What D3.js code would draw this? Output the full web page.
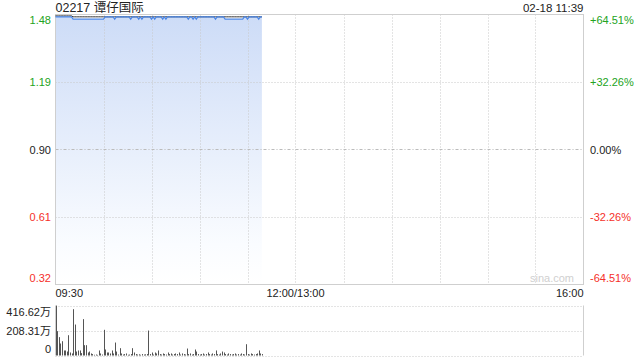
<!DOCTYPE html>
<html lang="zh">
<head>
  <meta charset="UTF-8">
  <title>02217 谭仔国际</title>
  <script src="https://d3js.org/d3.v7.min.js"></script>
  <style>
    html, body { margin: 0; padding: 0; background: #fff; }
    svg { display: block; font-family: "Liberation Sans", Arial, "Noto Sans CJK SC", sans-serif; }
  </style>
</head>
<body>
  <svg id="chart" width="640" height="360"></svg>

  <script>
    // --- data ---
    const title = '02217 谭仔国际';
    const stamp = '02-18 11:39';
    const prevClose = 0.90;
    const priceTicks = [1.48, 1.19, 0.90, 0.61, 0.32];
    const pctTicks = ['+64.51%', '+32.26%', '0.00%', '-32.26%', '-64.51%'];
    const volTicks = [416.62, 208.31, 0];
    const volTickLabels = ['416.62万', '208.31万', '0'];
    const timeLabels = ['09:30', '12:00/13:00', '16:00'];
    const timeTicks = [0, 150, 330];          // trading minutes since 09:30
    const gridMinutes = [30, 60, 90, 120, 150, 180, 210, 240, 270, 300];

    // one value per minute, 09:30 .. 11:39
    const price = [
      1.47,1.47,1.47,1.47,1.47,1.47,1.47,1.47,1.47,1.47,
      1.47,1.46,1.46,1.46,1.46,1.46,1.46,1.46,1.46,1.46,
      1.46,1.46,1.46,1.46,1.46,1.46,1.46,1.46,1.46,1.46,
      1.46,1.47,1.47,1.47,1.47,1.47,1.47,1.46,1.47,1.47,
      1.47,1.47,1.47,1.47,1.47,1.47,1.47,1.46,1.47,1.47,
      1.47,1.47,1.46,1.47,1.46,1.47,1.47,1.47,1.47,1.47,
      1.46,1.47,1.46,1.47,1.47,1.47,1.47,1.46,1.47,1.46,
      1.47,1.47,1.47,1.47,1.47,1.47,1.47,1.47,1.47,1.47,
      1.47,1.47,1.47,1.46,1.47,1.47,1.46,1.47,1.46,1.47,
      1.47,1.47,1.47,1.47,1.47,1.47,1.47,1.47,1.47,1.47,
      1.46,1.47,1.47,1.47,1.47,1.47,1.46,1.46,1.46,1.46,
      1.46,1.46,1.46,1.46,1.46,1.46,1.46,1.46,1.47,1.47,
      1.46,1.47,1.47,1.47,1.47,1.47,1.47,1.46,1.47,1.47
    ];
    const avgPrice = [
      1.474,1.474,1.474,1.474,1.474,1.474,1.474,1.474,1.474,1.474,
      1.474,1.47,1.47,1.47,1.47,1.47,1.47,1.47,1.47,1.47,
      1.47,1.47,1.47,1.47,1.47,1.47,1.47,1.47,1.47,1.47,
      1.47,1.47,1.47,1.47,1.47,1.47,1.47,1.47,1.47,1.47,
      1.47,1.47,1.47,1.47,1.47,1.47,1.47,1.47,1.47,1.47,
      1.47,1.47,1.47,1.47,1.47,1.47,1.47,1.47,1.47,1.47,
      1.47,1.47,1.47,1.47,1.47,1.47,1.47,1.47,1.47,1.47,
      1.47,1.47,1.47,1.47,1.47,1.47,1.47,1.47,1.47,1.47,
      1.47,1.47,1.47,1.47,1.47,1.47,1.47,1.47,1.47,1.47,
      1.47,1.47,1.47,1.47,1.47,1.47,1.47,1.47,1.47,1.47,
      1.47,1.47,1.47,1.47,1.47,1.47,1.47,1.47,1.47,1.47,
      1.47,1.47,1.47,1.47,1.47,1.47,1.47,1.47,1.47,1.47,
      1.47,1.47,1.47,1.47,1.47,1.47,1.47,1.47,1.47,1.47
    ];
    // volume in 万
    const volume = [
      416,203,153,100,119,42,42,33,169,25,
      17,386,258,33,42,42,20,303,86,86,
      25,33,17,12,6,8,5,42,17,8,
      214,50,25,25,17,42,17,108,33,8,
      61,17,8,12,17,6,8,12,61,25,
      12,8,10,6,12,8,10,12,208,12,
      25,8,25,17,42,12,8,17,12,8,
      25,12,17,8,12,17,12,25,8,17,
      12,8,58,12,17,8,12,50,33,12,
      8,12,17,8,12,25,12,8,17,12,
      42,12,8,17,33,25,12,8,17,12,
      8,12,17,8,12,8,17,12,8,94,
      12,8,17,12,8,12,17,42,17,12
    ];

    // --- layout ---
    const plotLeft = 55.5, plotRight = 583.5;
    const plotTop = 14.5, plotBottom = 284.5;
    const volTop = 305.5, volBottom = 355.5;
    const green = '#22a322', red = '#f5302a', dark = '#222';

    const svg = d3.select('#chart');

    const x = d3.scaleLinear().domain([0, 330]).range([plotLeft, plotRight]);
    const y = d3.scaleLinear().domain([0.32, 1.48]).range([plotBottom, plotTop]);
    const yv = d3.scaleLinear().domain([0, 416.62]).range([volBottom, volTop]);

    const tickColor = v => v > prevClose ? green : (v < prevClose ? red : dark);

    // gradient for the price area
    const grad = svg.append('defs').append('linearGradient')
      .attr('id', 'fill').attr('x1', 0).attr('y1', 0).attr('x2', 0).attr('y2', 1);
    grad.append('stop').attr('offset', '0%').attr('stop-color', '#cddcf7');
    grad.append('stop').attr('offset', '85%').attr('stop-color', '#fafcff');
    grad.append('stop').attr('offset', '100%').attr('stop-color', '#ffffff');

    // header
    svg.append('text').attr('x', plotLeft).attr('y', 12)
      .attr('font-size', 12.5).attr('fill', dark).text(title);
    svg.append('text').attr('x', plotRight).attr('y', 12)
      .attr('text-anchor', 'end').attr('font-size', 11.5).attr('fill', dark).text(stamp);

    // price area
    const area = d3.area()
      .x((d, i) => x(i)).y0(plotBottom).y1(d => y(d));
    svg.append('path').datum(price)
      .attr('d', area).attr('fill', 'url(#fill)');

    // grid
    const grid = svg.append('g');
    grid.selectAll('line.v').data(gridMinutes).enter().append('line')
      .attr('x1', d => Math.round(x(d)) + 0.5).attr('x2', d => Math.round(x(d)) + 0.5)
      .attr('y1', plotTop).attr('y2', plotBottom)
      .attr('stroke', '#c8c8c8').attr('stroke-dasharray', '1,2');
    grid.selectAll('line.h').data([1.19, 0.61]).enter().append('line')
      .attr('x1', plotLeft).attr('x2', plotRight)
      .attr('y1', d => Math.round(y(d)) + 0.5).attr('y2', d => Math.round(y(d)) + 0.5)
      .attr('stroke', '#c8c8c8').attr('stroke-dasharray', '1,2');
    grid.append('line')
      .attr('x1', plotLeft).attr('x2', plotRight)
      .attr('y1', Math.round(y(prevClose)) + 0.5).attr('y2', Math.round(y(prevClose)) + 0.5)
      .attr('stroke', '#bbb').attr('stroke-dasharray', '3,2,1,2');

    // frame
    svg.append('rect')
      .attr('x', plotLeft).attr('y', plotTop)
      .attr('width', plotRight - plotLeft).attr('height', plotBottom - plotTop)
      .attr('fill', 'none').attr('stroke', '#cfcfcf');

    svg.append('text').attr('x', 574).attr('y', 282)
      .attr('text-anchor', 'end').attr('font-size', 11).attr('fill', '#d0d0d0').text('sina.com');

    const line = d3.line().x((d, i) => x(i)).y(d => y(d));
    svg.append('path').datum(avgPrice)
      .attr('d', line).attr('fill', 'none').attr('stroke', '#333').attr('stroke-width', 1);
    svg.append('path').datum(price)
      .attr('d', line).attr('fill', 'none').attr('stroke', '#4a86e8').attr('stroke-width', 1.2);

    // price labels (left) and percent labels (right)
    const labelY = (v, i, n) => {
      if (i === 0) return plotTop + 9.5;
      if (i === n - 1) return plotBottom - 2.5;
      return y(v) + 4;
    };
    svg.append('g').selectAll('text').data(priceTicks).enter().append('text')
      .attr('x', 51).attr('y', (d, i) => labelY(d, i, priceTicks.length))
      .attr('text-anchor', 'end').attr('font-size', 11)
      .attr('fill', d => tickColor(d))
      .text(d => d.toFixed(2));
    svg.append('g').selectAll('text').data(pctTicks).enter().append('text')
      .attr('x', 590).attr('y', (d, i) => labelY(priceTicks[i], i, pctTicks.length))
      .attr('font-size', 11)
      .attr('fill', (d, i) => tickColor(priceTicks[i]))
      .text(d => d);

    // time labels
    svg.append('g').selectAll('text').data(timeLabels).enter().append('text')
      .attr('x', (d, i) => x(timeTicks[i]))
      .attr('y', 297)
      .attr('text-anchor', (d, i) => i === 0 ? 'start' : (i === timeLabels.length - 1 ? 'end' : 'middle'))
      .attr('font-size', 11).attr('fill', dark)
      .text(d => d);

    // volume panel
    svg.append('g').selectAll('line').data(volTicks).enter().append('line')
      .attr('x1', plotLeft).attr('x2', plotRight)
      .attr('y1', d => Math.round(yv(d)) + 0.5).attr('y2', d => Math.round(yv(d)) + 0.5)
      .attr('stroke', '#c8c8c8').attr('stroke-dasharray', '1,2');
    svg.append('line').attr('x1', plotLeft).attr('x2', plotLeft)
      .attr('y1', volTop).attr('y2', volBottom).attr('stroke', '#cfcfcf');
    svg.append('line').attr('x1', plotRight).attr('x2', plotRight)
      .attr('y1', volTop).attr('y2', volBottom).attr('stroke', '#cfcfcf');

    svg.append('g').selectAll('rect').data(volume).enter().append('rect')
      .attr('x', (d, i) => Math.round(x(i)))
      .attr('width', 1)
      .attr('y', d => yv(d))
      .attr('height', d => volBottom - yv(d))
      .attr('fill', '#555');

    svg.append('g').selectAll('text').data(volTickLabels).enter().append('text')
      .attr('x', 51)
      .attr('y', (d, i) => i === 0 ? volTop + 10 : (i === volTickLabels.length - 1 ? volBottom - 3 : yv(volTicks[i]) + 4))
      .attr('text-anchor', 'end').attr('font-size', 11).attr('fill', dark)
      .text(d => d);
  </script>
</body>
</html>
